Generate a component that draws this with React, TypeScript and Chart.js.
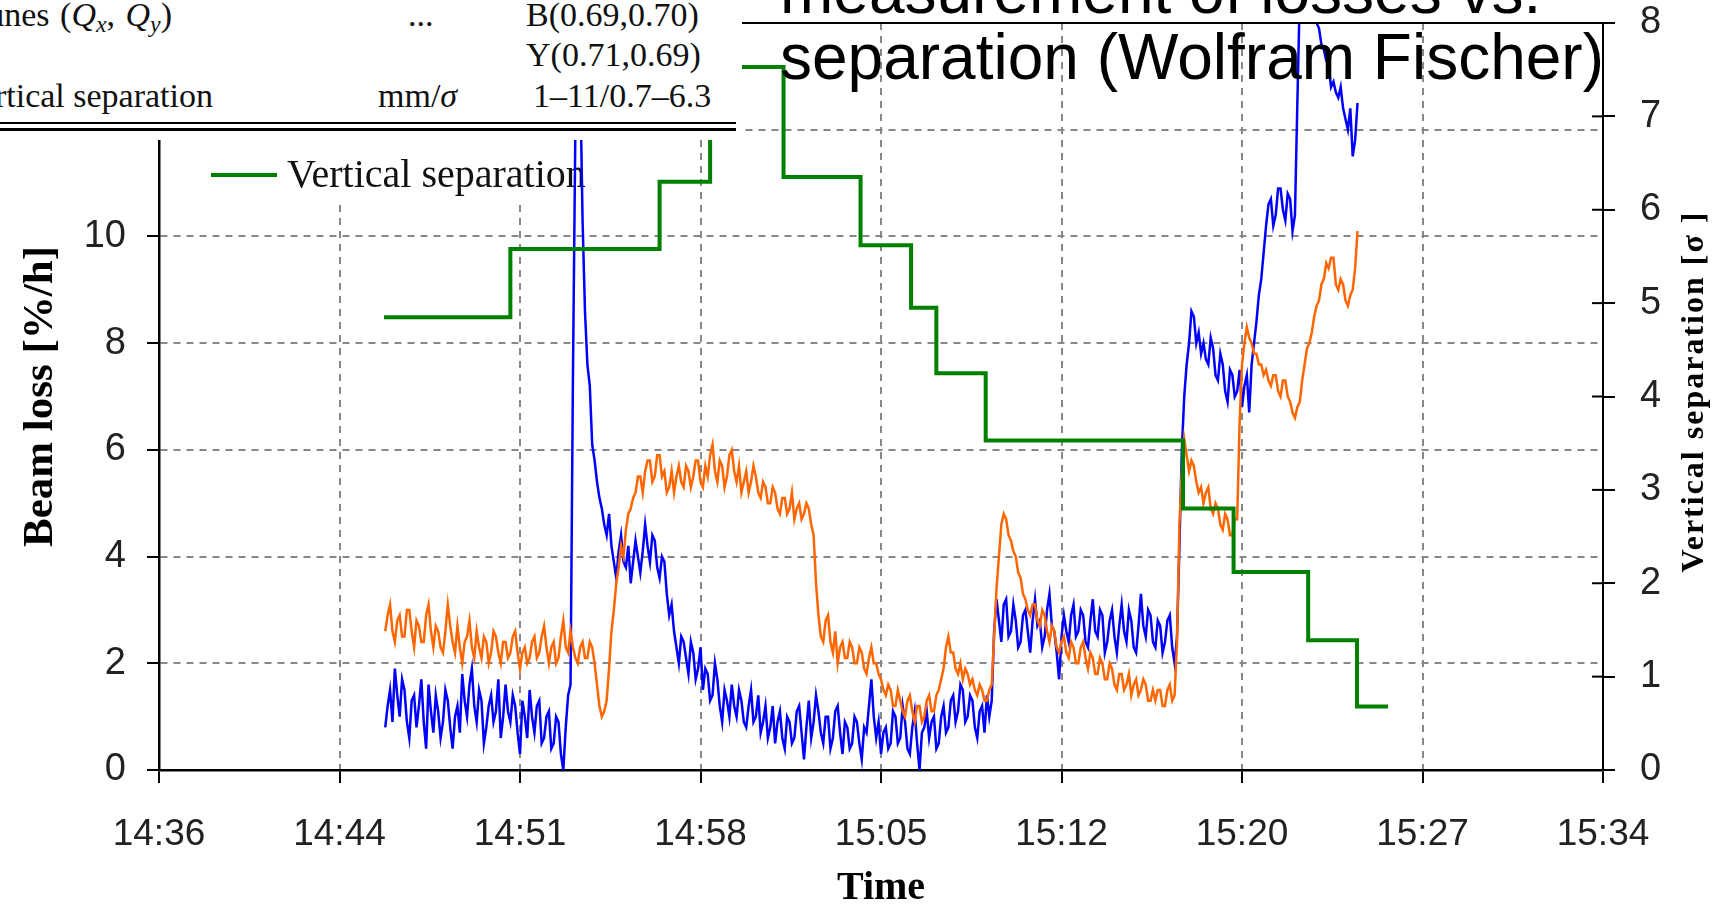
import React, { useEffect, useRef } from "react";
import { Chart, registerables } from "chart.js";

Chart.register(...registerables);

// ---------- data ----------
const timeTickLabels = ["14:36", "14:44", "14:51", "14:58", "15:05", "15:12", "15:20", "15:27", "15:34"];
const tickIntervalMin = 7.5; // minutes between time ticks (axis starts at 14:36)

// beam-loss samples, one every 0.1 min starting 9.4 min after 14:36
const sampleStart = 9.4;
const sampleStep = 0.1;

const blueLoss = [
  0.8, 1.2, 1.5, 0.9, 1.9, 1.4, 1.0, 1.7, 1.5, 0.9,
  0.6, 1.3, 1.4, 0.8, 1.2, 1.7, 0.9, 0.4, 1.6, 1.1,
  0.7, 1.4, 1.1, 0.6, 0.9, 1.5, 1.3, 0.8, 0.4, 1.0,
  1.2, 0.7, 1.8, 1.3, 1.0, 1.6, 1.9, 1.2, 0.9, 1.5,
  1.3, 0.5, 0.8, 1.2, 1.4, 0.9, 1.1, 1.7, 0.6, 1.0,
  1.6, 1.1, 0.9, 1.4, 1.2, 0.7, 0.3, 1.3, 1.0, 0.6,
  1.5, 1.0, 0.7, 1.2, 1.3, 0.5, 0.6, 1.0, 1.1, 0.4,
  0.5, 1.0, 0.9, 0.3, 0.0, 0.8, 1.4, 1.6, 7.4, 12.0,
  15.0, 13.0, 10.3, 8.6, 7.6, 7.2, 6.1, 5.8, 5.4, 5.1,
  4.9, 4.6, 4.4, 4.8, 4.2, 3.9, 3.6, 4.1, 4.4, 3.9,
  3.8, 4.2, 3.5, 3.9, 4.3, 4.0, 3.7, 4.1, 4.6, 4.2,
  3.9, 4.4, 4.3, 3.8, 3.6, 4.0, 3.9, 3.3, 2.9, 3.1,
  2.6, 2.3, 2.0, 2.5, 2.4, 2.1, 1.8, 2.4, 2.2, 1.7,
  1.9, 2.3, 1.5, 1.9, 1.8, 1.3, 1.4, 2.0, 1.7, 1.2,
  0.9, 1.5, 1.3, 1.0, 1.6, 1.2, 1.0, 1.5, 1.3, 0.9,
  0.8, 1.2, 1.5, 0.9, 1.0, 1.4, 0.7, 0.9, 1.2, 0.6,
  0.8, 1.2, 0.5, 0.9, 1.1, 0.6, 0.4, 1.0, 0.9, 0.5,
  0.6, 1.1, 1.2, 0.7, 0.2, 0.8, 1.3, 0.6, 0.9, 1.4,
  1.1, 0.7, 0.5, 1.0, 1.0, 0.4, 0.6, 1.1, 1.2, 0.7,
  0.3, 0.9, 0.8, 0.4, 0.5, 1.0, 0.9, 0.5, 0.2, 0.8,
  0.7, 1.2, 1.7, 1.0, 0.6, 0.9, 0.3, 0.7, 0.8, 0.4,
  0.5, 1.1, 1.0, 0.5, 0.6, 1.2, 0.9, 0.4, 0.3, 0.8,
  1.1, 0.5, 0.0, 0.7, 0.8, 1.1, 0.6, 0.9, 1.0, 0.4,
  0.5, 1.0, 1.2, 0.7, 0.8, 1.3, 1.4, 0.9, 1.1, 1.6,
  1.5, 0.9, 1.0, 1.4, 1.3, 0.8, 0.6, 1.1, 1.2, 0.7,
  1.4, 1.0, 1.3, 2.6, 3.2, 2.8, 2.4, 3.1, 3.2, 2.5,
  2.6, 3.1, 2.8, 2.3, 2.4, 2.9, 3.0, 2.6, 2.2, 2.8,
  3.2, 2.7, 2.8, 2.3, 2.5, 3.0, 3.3, 2.7, 2.6, 2.2,
  1.7, 2.5, 2.9, 2.6, 2.4, 2.9, 3.1, 2.5, 2.6, 3.0,
  2.9, 2.4, 2.3, 2.8, 3.2, 2.6, 2.5, 3.0, 2.9, 2.2,
  2.4, 2.8, 3.0, 2.5, 2.2, 2.7, 3.1, 2.6, 2.4, 3.0,
  2.8, 2.3, 2.2, 2.7, 3.3, 2.7, 2.5, 3.0, 2.9, 2.4,
  2.3, 2.8, 2.7, 2.2, 2.4, 2.8, 2.9, 2.3, 2.0, 2.5,
  4.2, 6.0, 7.0, 7.6, 8.0, 8.6, 8.5, 8.0, 8.2, 7.8,
  8.0, 7.7, 7.6, 8.1, 7.9, 7.4, 7.3, 7.8, 7.6, 7.1,
  6.9, 7.5, 7.4, 7.0, 7.1, 7.5, 6.8, 7.2, 7.4, 6.7,
  7.6, 8.0, 8.4, 8.9, 9.2, 9.7, 10.2, 10.6, 10.7, 10.2,
  10.4, 10.9, 10.9, 10.5, 10.3, 10.8, 10.7, 10.1, 10.4, 12.5,
  14.5, 15.0, 15.0, 15.0, 15.0, 14.8, 14.3, 14.0, 13.9, 13.6,
  13.5, 13.3, 13.2, 12.8, 12.9, 12.7, 12.6, 12.8, 12.4, 12.2,
  12.0, 12.4, 11.5, 11.8, 12.5,
];

const yellowLoss = [
  2.6, 2.9, 3.1, 2.6, 2.4, 2.8, 2.9, 2.5, 2.5, 3.0,
  3.0, 2.6, 2.3, 2.8, 2.7, 2.4, 2.4, 2.9, 3.1, 2.6,
  2.3, 2.7, 2.6, 2.3, 2.2, 2.6, 3.1, 2.7, 2.4, 2.2,
  2.7, 2.3, 2.0, 2.4, 2.5, 2.8, 2.3, 2.1, 2.6, 2.3,
  2.1, 2.5, 2.4, 2.0, 2.2, 2.6, 2.5, 2.2, 2.0, 2.4,
  2.4, 2.1, 2.2, 2.5, 2.6, 2.2, 1.9, 2.2, 2.3, 2.0,
  2.1, 2.4, 2.5, 2.1, 2.2, 2.5, 2.7, 2.3, 2.0, 2.3,
  2.4, 2.0, 2.1, 2.5, 2.8, 2.3, 2.2, 2.6, 2.3, 2.1,
  2.0, 2.3, 2.4, 2.1, 2.1, 2.4, 2.3, 2.0, 1.6, 1.2,
  1.0, 1.1, 1.3, 1.9, 2.6, 3.0, 3.5, 3.8, 4.2, 4.0,
  4.5, 4.8, 4.9, 5.1, 5.2, 5.5, 5.5, 5.2, 5.6, 5.8,
  5.8, 5.4, 5.5, 5.9, 5.9, 5.5, 5.6, 5.2, 5.3, 5.6,
  5.2, 5.5, 5.7, 5.4, 5.3, 5.7, 5.6, 5.3, 5.5, 5.8,
  5.8, 5.4, 5.3, 5.7, 5.5, 5.9, 6.1, 5.6, 5.4, 5.8,
  5.7, 5.3, 5.5, 5.9, 6.0, 5.6, 5.4, 5.7, 5.2, 5.4,
  5.6, 5.2, 5.4, 5.7, 5.5, 5.2, 5.1, 5.4, 5.3, 5.0,
  5.0, 5.3, 5.2, 4.9, 4.8, 5.1, 5.1, 4.8, 4.9, 5.2,
  4.7, 4.9, 5.0, 4.7, 4.8, 5.0, 4.9, 4.6, 4.4, 3.5,
  2.9, 2.5, 2.4, 2.8, 2.9, 2.4, 2.2, 2.6, 2.0, 2.3,
  2.4, 2.1, 2.1, 2.4, 2.3, 2.0, 2.0, 2.3, 2.2, 1.9,
  1.8, 2.1, 2.3, 2.0, 2.0, 1.8, 1.7, 1.5, 1.4, 1.6,
  1.5, 1.2, 1.2, 1.5, 1.3, 1.1, 1.0, 1.3, 1.4, 1.1,
  0.9, 1.2, 1.2, 0.9, 1.0, 1.3, 1.4, 1.1, 1.1, 1.4,
  1.5, 1.7, 1.9, 2.3, 2.5, 2.2, 2.2, 1.9, 1.8, 2.0,
  1.7, 1.9, 1.8, 1.6, 1.7, 1.5, 1.4, 1.6, 1.5, 1.3,
  1.3, 1.5, 1.6, 2.5, 3.4, 4.0, 4.6, 4.8, 4.7, 4.4,
  4.3, 4.1, 4.0, 3.7, 3.6, 3.3, 3.2, 3.0, 2.9, 3.1,
  3.1, 2.8, 2.7, 3.0, 2.9, 2.6, 2.4, 2.7, 2.6, 2.3,
  2.2, 2.4, 2.5, 2.2, 2.1, 2.4, 2.3, 2.0, 2.0, 2.3,
  2.4, 2.1, 1.9, 2.2, 2.1, 1.8, 1.8, 2.1, 2.0, 1.7,
  1.7, 2.0, 1.9, 1.6, 1.5, 1.8, 1.8, 1.5, 1.6, 1.8,
  1.4, 1.6, 1.7, 1.4, 1.5, 1.7, 1.6, 1.3, 1.3, 1.5,
  1.3, 1.5, 1.5, 1.2, 1.2, 1.5, 1.6, 1.3, 1.4, 2.4,
  4.6, 5.6, 6.2, 5.9, 5.6, 5.8, 5.7, 5.4, 5.2, 5.3,
  5.0, 5.2, 5.3, 4.9, 4.8, 5.0, 4.9, 4.6, 4.5, 4.8,
  4.7, 4.4, 4.4, 4.7, 4.7, 6.5, 7.6, 8.0, 8.3, 8.1,
  8.0, 7.8, 7.8, 7.6, 7.6, 7.4, 7.5, 7.3, 7.2, 7.4,
  7.4, 7.1, 7.0, 7.3, 7.3, 7.0, 6.9, 6.7, 6.6, 6.8,
  6.9, 7.3, 7.6, 7.9, 8.0, 8.2, 8.5, 8.7, 8.8, 9.1,
  9.2, 9.5, 9.4, 9.6, 9.6, 9.1, 9.0, 9.2, 9.1, 8.8,
  8.7, 8.9, 9.0, 9.4, 10.1,
];

// vertical separation steps (minutes after 14:36, sigma)
const separationTimes = [9.35, 14.6, 20.8, 22.9, 25.95, 29.15, 31.25, 32.3, 34.35, 42.55, 44.65, 47.75, 49.78, 51.07];
const separationSigma = [4.85, 5.58, 6.3, 7.53, 6.35, 5.62, 4.95, 4.25, 3.53, 2.8, 2.12, 1.39, 0.68, 0.68];

// ---------- style ----------
const W = 1717;
const H = 904;
const BLUE = "#0000ff";
const ORANGE = "#ff6600";
const GREEN = "#008000";
const GRID = "#888888";
const SERIF = '"Liberation Serif", "Times New Roman", serif';
const TICK_FONT = '"Liberation Sans", Arial, sans-serif';

const decorPlugin = {
  id: "decor",
  beforeDatasetsDraw(chart: any) {
    const { ctx, chartArea } = chart;
    const lx = chartArea.left;
    ctx.save();
    // legend background (hides grid behind legend)
    ctx.fillStyle = "#ffffff";
    ctx.fillRect(lx + 36, chartArea.top + 2, 410, 200 - chartArea.top - 2);
    // legend entry
    ctx.strokeStyle = GREEN;
    ctx.lineWidth = 4;
    ctx.beginPath();
    ctx.moveTo(lx + 52, 175);
    ctx.lineTo(lx + 118, 175);
    ctx.stroke();
    ctx.fillStyle = "#111";
    ctx.font = `40px ${SERIF}`;
    ctx.textAlign = "left";
    ctx.textBaseline = "middle";
    ctx.fillText("Vertical separation", lx + 128, 176);
    ctx.restore();
  },
  afterDraw(chart: any) {
    const { ctx, chartArea, scales } = chart;
    ctx.save();
    // top frame line
    ctx.strokeStyle = "#000";
    ctx.lineWidth = 2;
    ctx.beginPath();
    ctx.moveTo(chartArea.left, chartArea.top);
    ctx.lineTo(chartArea.right, chartArea.top);
    ctx.stroke();
    // inner half of right-axis tick marks
    const y1 = scales.y1;
    ctx.lineWidth = 2;
    y1.ticks.forEach((t: any) => {
      const py = y1.getPixelForValue(t.value);
      ctx.beginPath();
      ctx.moveTo(chartArea.right - 11, py);
      ctx.lineTo(chartArea.right, py);
      ctx.stroke();
    });
    // right axis title, reading bottom to top
    ctx.translate(1695, (chartArea.top + chartArea.bottom) / 2 - 5);
    ctx.rotate(-Math.PI / 2);
    ctx.font = `bold 32px ${SERIF}`;
    (ctx as any).letterSpacing = "2px";
    ctx.fillStyle = "#000";
    ctx.textAlign = "center";
    ctx.textBaseline = "middle";
    ctx.fillText("Vertical separation [σ ]", 0, 0);
    ctx.restore();
  },
};

function ChartCanvas() {
  const ref = useRef<HTMLCanvasElement | null>(null);
  useEffect(() => {
    if (!ref.current) return;
    const blueData = blueLoss.map((v, i) => ({ x: sampleStart + i * sampleStep, y: v }));
    const yellowData = yellowLoss.map((v, i) => ({ x: sampleStart + i * sampleStep, y: v }));
    const sepData = separationTimes.map((t, i) => ({ x: t, y: separationSigma[i] }));
    const chart = new Chart(ref.current, {
      type: "line",
      data: {
        datasets: [
          {
            label: "Vertical separation",
            data: sepData,
            yAxisID: "y1",
            borderColor: GREEN,
            borderWidth: 4,
            stepped: "before",
            pointRadius: 0,
            fill: false,
          },
          {
            label: "Yellow beam",
            data: yellowData,
            yAxisID: "y",
            borderColor: ORANGE,
            borderWidth: 2.5,
            pointRadius: 0,
            tension: 0,
            fill: false,
          },
          {
            label: "Blue beam",
            data: blueData,
            yAxisID: "y",
            borderColor: BLUE,
            borderWidth: 2.5,
            pointRadius: 0,
            tension: 0,
            fill: false,
          },
        ],
      } as any,
      options: {
        responsive: false,
        animation: false,
        events: [],
        layout: { padding: { top: 23, left: 0, right: 0, bottom: 0 } },
        plugins: { legend: { display: false }, tooltip: { enabled: false }, title: { display: false } },
        scales: {
          x: {
            type: "linear",
            min: 0,
            max: 60,
            ticks: {
              stepSize: tickIntervalMin,
              autoSkip: false,
              maxRotation: 0,
              padding: 30,
              color: "#222",
              font: { family: TICK_FONT, size: 37 },
              callback: (v: any) => timeTickLabels[Math.round(Number(v) / tickIntervalMin)] ?? "",
            },
            grid: { color: GRID, lineWidth: 2, tickLength: 13, tickColor: "#000", tickWidth: 2 },
            border: { color: "#000", width: 2.5, dash: [7, 6] },
            title: {
              display: true,
              text: "Time",
              color: "#000",
              font: { family: SERIF, size: 40, weight: "bold", lineHeight: 0.75 },
              padding: { top: 0, bottom: 0 },
            },
            afterFit: (s: any) => {
              s.height = 134;
              s.paddingLeft = 0;
              s.paddingRight = 0;
            },
          },
          y: {
            position: "left",
            min: 0,
            max: 14,
            ticks: { stepSize: 2, padding: 21, color: "#222", font: { family: TICK_FONT, size: 38 } },
            grid: { color: GRID, lineWidth: 2, tickLength: 12, tickColor: "#000", tickWidth: 2 },
            border: { color: "#000", width: 2.5, dash: [7, 6] },
            title: {
              display: true,
              text: "Beam loss [%/h]",
              color: "#000",
              font: { family: SERIF, size: 43, weight: "bold" },
              padding: { top: 15, bottom: 0 },
            },
            afterFit: (s: any) => {
              s.width = 159;
              s.paddingTop = 0;
              s.paddingBottom = 0;
            },
          },
          y1: {
            position: "right",
            min: 0,
            max: 8,
            ticks: { stepSize: 1, padding: 25, color: "#222", font: { family: TICK_FONT, size: 38 } },
            grid: { drawOnChartArea: false, color: "#000", lineWidth: 2, tickLength: 12 },
            border: { color: "#000", width: 2 },
            afterFit: (s: any) => {
              s.width = 114;
              s.paddingTop = 0;
              s.paddingBottom = 0;
            },
          },
        },
      } as any,
      plugins: [decorPlugin],
    });
    return () => chart.destroy();
  }, []);
  return <canvas ref={ref} width={W} height={H} style={{ position: "absolute", left: 0, top: 0, width: W, height: H }} />;
}

const cell: React.CSSProperties = { position: "absolute", whiteSpace: "nowrap" };
const subStyle: React.CSSProperties = { fontSize: "0.7em", verticalAlign: "-0.25em", fontStyle: "italic" };

export default function App() {
  return (
    <div style={{ position: "fixed", left: 0, top: 0, width: W, height: H, overflow: "hidden", background: "#fff" }}>
      <ChartCanvas />
      {/* parameter table fragment (top-left) */}
      <div
        style={{
          position: "absolute",
          left: 0,
          top: 0,
          width: 742,
          height: 140,
          background: "#fff",
          fontFamily: SERIF,
          fontSize: 34,
          lineHeight: 1,
          color: "#111",
          overflow: "hidden",
        }}
      >
        <span style={{ ...cell, right: 570, top: -2.5, wordSpacing: 2 }}>
          tunes (<i>Q</i>
          <span style={subStyle}>x</span>, <i>Q</i>
          <span style={subStyle}>y</span>)
        </span>
        <span style={{ ...cell, left: 408, top: -2.5 }}>...</span>
        <span style={{ ...cell, left: 526, top: -2.5 }}>B(0.69,0.70)</span>
        <span style={{ ...cell, left: 526, top: 37.5 }}>Y(0.71,0.69)</span>
        <span style={{ ...cell, right: 529, top: 79 }}>Vertical separation</span>
        <span style={{ ...cell, left: 378, top: 79 }}>
          mm/<i>σ</i>
        </span>
        <span style={{ ...cell, left: 533, top: 79 }}>1–11/0.7–6.3</span>
        <div style={{ position: "absolute", left: 0, top: 121.5, width: 736, height: 2.5, background: "#000" }} />
        <div style={{ position: "absolute", left: 0, top: 128, width: 736, height: 2.5, background: "#000" }} />
      </div>
      {/* slide title overlay */}
      <div
        style={{
          position: "absolute",
          left: 780,
          top: -42,
          fontFamily: '"Liberation Sans", Arial, sans-serif',
          fontSize: 64,
          lineHeight: "66px",
          color: "#000",
          whiteSpace: "pre",
        }}
      >
        {"measurement of losses vs.\nseparation (Wolfram Fischer)"}
      </div>
    </div>
  );
}
